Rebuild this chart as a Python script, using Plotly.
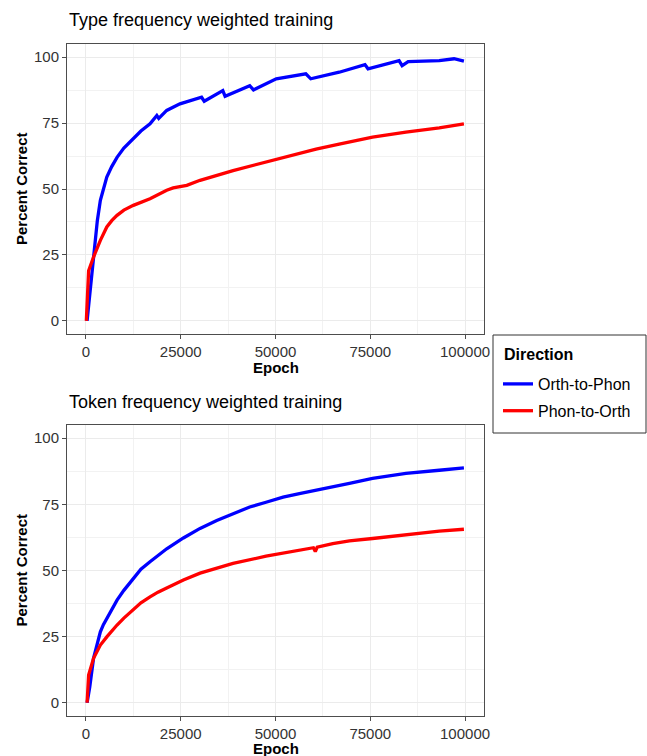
import plotly.graph_objects as go

W, H = 647, 756

# ---------------- data ----------------
type_o2p_epoch = [300, 1000, 2000, 3000, 3800, 5500, 6800, 8200, 10000, 12500, 14500, 16900,
                  18700, 19200, 21300, 24800, 28300, 30500, 31200, 36100, 36700, 43200,
                  44200, 50200, 58000, 59300, 66800, 71200, 73600, 74400, 82600, 83400,
                  85000, 93200, 97100, 99700]
type_o2p_pct = [0, 10, 26.7, 38, 45.7, 54.5, 58.5, 62, 65.5, 69, 72, 74.7,
                77.9, 76.8, 79.8, 82.3, 83.8, 84.8, 83.3, 87.3, 85.2, 89.2,
                87.6, 91.8, 93.7, 91.8, 94.3, 96.2, 97.2, 95.6, 98.7, 96.8,
                98.3, 98.7, 99.4, 98.5]

type_p2o_epoch = [100, 700, 2000, 3800, 5500, 6800, 8200, 10000, 12500, 14500, 16900,
                  21300, 23000, 26600, 30100, 38800, 47500, 56300, 60700, 66800, 69500,
                  75600, 84400, 93200, 99700]
type_p2o_pct = [0, 19, 24.2, 30.5, 35.6, 38, 40, 42, 43.8, 45, 46.3,
                49.5, 50.4, 51.4, 53.3, 57, 60.2, 63.6, 65.1, 67.0, 67.8,
                69.7, 71.6, 73.2, 74.7]

token_o2p_epoch = [300, 700, 1000, 2000, 3000, 3800, 4600, 5500, 6800, 8200, 10000, 12500,
                   14500, 16900, 19000, 21300, 25700, 30100, 34500, 38800, 43200, 47500,
                   52000, 56300, 60700, 65100, 69500, 75600, 84400, 93200, 99700]
token_o2p_pct = [0, 2.9, 6, 16.8, 22.5, 26.8, 29.5, 31.9, 35.5, 38.8, 42.5, 47,
                 50.5, 53.3, 55.8, 58.2, 62.3, 65.9, 68.9, 71.5, 74, 75.8,
                 77.7, 79.1, 80.3, 81.6, 82.9, 84.8, 86.7, 87.9, 88.8]

token_p2o_epoch = [300, 700, 2000, 3800, 5500, 6800, 8200, 10000, 12500, 14500, 16900,
                   19000, 21300, 25700, 30100, 38800, 47500, 56300, 60000, 60500, 61000,
                   65100, 69500, 75600, 84400, 93200, 99700]
token_p2o_pct = [0, 10.5, 16.8, 21.8, 24.9, 27.3, 29.4, 32, 35, 37.8, 40,
                 41.8, 43.4, 46.4, 49, 52.7, 55.4, 57.7, 58.6, 57.2, 58.8,
                 60.2, 61.2, 62.1, 63.6, 64.9, 65.6]

x_ticks = [0, 25000, 50000, 75000, 100000]
y_ticks = [0, 25, 50, 75, 100]
x_minor = [12500, 37500, 62500, 87500]
y_minor = [12.5, 37.5, 62.5, 87.5]
series_names = ["Orth-to-Phon", "Phon-to-Orth"]
series_colors = ["#0000FF", "#FF0000"]
panel_titles = ["Type frequency weighted training", "Token frequency weighted training"]
legend_title = "Direction"

# ---------------- layout helpers ----------------
def px_x(p):
    return p / W

def px_y(p):
    return 1 - p / H

FONT = "Liberation Sans, Arial, Helvetica, sans-serif"

fig = go.Figure()

panels = [
    ("x", "y", type_o2p_epoch, type_o2p_pct, type_p2o_epoch, type_p2o_pct, True),
    ("x2", "y2", token_o2p_epoch, token_o2p_pct, token_p2o_epoch, token_p2o_pct, False),
]
for xa, ya, ex1, y1, ex2, y2, show in panels:
    fig.add_trace(go.Scatter(x=ex1, y=y1, mode="lines", name=series_names[0],
                             line=dict(color=series_colors[0], width=3.3),
                             xaxis=xa, yaxis=ya, showlegend=show, legendgroup="a"))
    fig.add_trace(go.Scatter(x=ex2, y=y2, mode="lines", name=series_names[1],
                             line=dict(color=series_colors[1], width=3.3),
                             xaxis=xa, yaxis=ya, showlegend=show, legendgroup="b"))

axis_common = dict(
    showline=True, linecolor="#4d4d4d", linewidth=1, mirror=True,
    ticks="outside", ticklen=4, tickcolor="#4d4d4d", tickwidth=1,
    showgrid=True, gridcolor="#EBEBEB", gridwidth=1.1,
    zeroline=False,
    tickfont=dict(family=FONT, size=15, color="#333333"),
)
x_minor_d = dict(tickvals=x_minor, showgrid=True, gridcolor="#F2F2F2", gridwidth=0.6, ticks="")
y_minor_d = dict(tickvals=y_minor, showgrid=True, gridcolor="#F2F2F2", gridwidth=0.6, ticks="")

xdom = [px_x(67), px_x(484)]
top_dom = [px_y(334), px_y(44)]
bot_dom = [px_y(716), px_y(425)]

fig.update_layout(
    autosize=True, height=H,
    margin=dict(l=0, r=0, t=0, b=0, autoexpand=False),
    paper_bgcolor="white", plot_bgcolor="white",
    font=dict(family=FONT, color="black"),
    xaxis=dict(domain=xdom, anchor="y", range=[-5000, 105000], tickvals=x_ticks,
               ticktext=[str(v) for v in x_ticks], minor=x_minor_d, **axis_common),
    yaxis=dict(domain=top_dom, anchor="x", range=[-5, 105], tickvals=y_ticks,
               minor=y_minor_d, **axis_common),
    xaxis2=dict(domain=xdom, anchor="y2", range=[-5000, 105000], tickvals=x_ticks,
                ticktext=[str(v) for v in x_ticks], minor=x_minor_d, **axis_common),
    yaxis2=dict(domain=bot_dom, anchor="x2", range=[-5, 105], tickvals=y_ticks,
                minor=y_minor_d, **axis_common),
    legend=dict(
        x=px_x(498), y=px_y(367), xanchor="left", yanchor="top",
        bgcolor="rgba(0,0,0,0)", borderwidth=0,
        font=dict(family=FONT, size=16, color="black"),
        itemwidth=30, tracegroupgap=3,
    ),
    shapes=[dict(type="rect", xref="paper", yref="paper",
                 x0=px_x(493), x1=px_x(646), y0=px_y(433), y1=px_y(335),
                 line=dict(color="#333333", width=1), fillcolor="rgba(0,0,0,0)")],
)

annotations = []
annotations.append(dict(text="<b>" + legend_title + "</b>", x=px_x(502), y=px_y(354),
                        xref="paper", yref="paper", xanchor="left", yanchor="middle",
                        showarrow=False, font=dict(family=FONT, size=16, color="black")))
for title, ypix in [(panel_titles[0], 20), (panel_titles[1], 402)]:
    annotations.append(dict(text=title, x=px_x(67), y=px_y(ypix), xref="paper", yref="paper",
                            xanchor="left", yanchor="middle", showarrow=False,
                            font=dict(family=FONT, size=18, color="black")))
for ypix in [367.5, 748.5]:
    annotations.append(dict(text="<b>Epoch</b>", x=px_x(275.5), y=px_y(ypix), xref="paper",
                            yref="paper", xanchor="center", yanchor="middle", showarrow=False,
                            font=dict(family=FONT, size=15, color="black")))
for ypix in [189, 570.5]:
    annotations.append(dict(text="<b>Percent Correct</b>", x=px_x(21), y=px_y(ypix),
                            xref="paper", yref="paper", xanchor="center", yanchor="middle",
                            textangle=-90, showarrow=False,
                            font=dict(family=FONT, size=15, color="black")))
fig.update_layout(annotations=annotations)

fig.write_html(
    "out.html",
    default_width="100%",
    default_height="756px",
    config={"displayModeBar": False, "responsive": True},
    post_script=(
        "document.body.style.margin='0';document.body.style.overflow='hidden';"
        "Plotly.Plots.resize(document.getElementById('{plot_id}'));"
    ),
)
